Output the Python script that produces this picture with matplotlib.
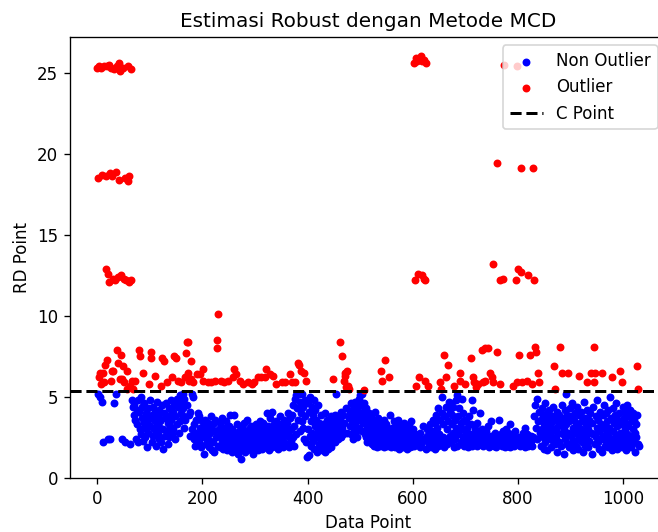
import matplotlib.pyplot as plt
import numpy as np

# Nilai RD (robust distance) per data point, 10 per baris
rd = [
    25.3, 18.5, 5.2, 25.4, 6.2, 5.0, 6.5, 25.3, 5.8, 18.7,
    4.7, 6.5, 2.2, 25.4, 5.9, 7.0, 18.6, 12.9, 25.4, 7.3,
    12.6, 2.4, 12.1, 25.5, 18.8, 2.4, 6.0, 25.3, 6.6, 18.6,
    12.3, 6.6, 25.2, 4.6, 12.2, 18.9, 5.2, 7.9, 25.4, 7.1,
    12.4, 18.4, 25.6, 6.1, 25.1, 7.6, 12.5, 6.1, 2.4, 25.3,
    6.9, 12.3, 5.9, 18.5, 2.2, 12.2, 6.6, 5.5, 18.3, 25.4,
    12.1, 18.6, 2.1, 5.7, 25.2, 12.2, 6.0, 4.8, 5.5, 4.4,
    3.9, 4.5, 3.6, 6.0, 2.4, 4.2, 3.3, 2.2, 4.8, 7.9,
    4.1, 7.5, 3.0, 2.7, 5.0, 3.7, 4.4, 6.5, 2.3, 3.4,
    4.6, 3.1, 2.5, 4.0, 1.9, 3.5, 4.3, 2.8, 5.8, 3.8,
    4.8, 3.2, 7.8, 7.4, 2.2, 3.9, 2.6, 4.4, 3.0, 3.6,
    4.1, 6.3, 2.0, 3.3, 4.7, 2.7, 3.8, 2.4, 4.2, 3.1,
    3.5, 2.2, 5.7, 4.5, 7.4, 1.8, 3.0, 7.2, 4.0, 2.6,
    3.7, 4.6, 2.9, 5.9, 2.1, 3.4, 4.3, 2.5, 3.9, 3.2,
    4.8, 3.6, 2.7, 6.2, 4.1, 3.0, 7.5, 4.5, 2.4, 3.8,
    7.4, 4.9, 3.3, 6.0, 4.4, 2.8, 4.7, 3.5, 5.1, 4.0,
    5.9, 4.6, 3.9, 5.2, 4.3, 3.1, 4.9, 6.2, 3.6, 7.7,
    4.5, 8.4, 6.5, 8.4, 3.9, 6.0, 4.1, 2.6, 7.2, 6.1,
    5.2, 3.0, 5.0, 5.9, 2.4, 3.3, 2.0, 2.8, 3.6, 2.2,
    6.4, 4.0, 2.6, 3.8, 2.2, 3.1, 6.4, 2.9, 1.9, 3.5,
    2.5, 6.7, 6.0, 3.2, 1.5, 2.8, 3.6, 2.1, 3.0, 2.4,
    5.9, 3.4, 1.9, 2.7, 3.1, 2.3, 5.9, 3.8, 1.7, 2.9,
    3.3, 2.2, 1.6, 2.9, 6.0, 3.6, 2.5, 8.0, 8.5, 10.1,
    2.0, 3.0, 2.6, 3.4, 1.9, 2.7, 6.0, 2.3, 3.7, 2.8,
    1.8, 3.1, 5.9, 2.4, 2.0, 3.5, 2.6, 1.7, 6.0, 2.9,
    3.2, 2.2, 2.7, 3.9, 1.9, 2.5, 3.0, 1.6, 6.2, 2.4,
    3.9, 6.7, 2.1, 2.8, 6.4, 1.8, 3.3, 2.5, 1.5, 2.2,
    2.9, 6.0, 1.7, 2.4, 1.2, 3.1, 2.0, 5.8, 2.6, 1.9,
    3.4, 2.3, 1.6, 2.8, 2.1, 3.6, 1.8, 5.9, 2.5, 3.0,
    2.0, 2.7, 1.7, 3.2, 5.8, 2.2, 1.5, 2.9, 2.4, 5.9,
    2.6, 1.9, 3.3, 2.2, 3.0, 1.7, 6.2, 2.8, 2.4, 3.5,
    2.0, 2.7, 6.2, 1.8, 3.1, 2.3, 3.4, 2.6, 1.9, 2.9,
    6.2, 2.5, 6.7, 4.0, 2.1, 3.2, 2.8, 1.7, 6.4, 3.7,
    2.4, 3.0, 1.9, 4.1, 2.6, 6.3, 2.2, 3.3, 2.9, 2.0,
    3.5, 5.8, 2.3, 2.7, 1.8, 3.1, 2.5, 3.8, 2.0, 2.8,
    3.3, 5.9, 2.4, 1.9, 2.9, 3.6, 2.2, 5.9, 2.7, 3.1,
    2.1, 3.4, 2.6, 4.0, 1.9, 2.9, 3.7, 6.4, 2.3, 3.0,
    5.9, 3.9, 2.5, 4.5, 2.0, 3.2, 5.9, 4.9, 2.7, 5.1,
    4.3, 7.1, 3.6, 5.2, 7.0, 4.7, 2.9, 4.0, 6.6, 3.5,
    5.2, 4.4, 3.1, 2.4, 6.5, 4.8, 3.8, 6.0, 2.2, 1.3,
    3.0, 4.6, 1.4, 4.1, 2.6, 5.0, 3.5, 2.0, 4.4, 2.8,
    3.9, 2.3, 4.8, 1.8, 3.2, 4.2, 2.5, 3.6, 1.6, 2.9,
    4.5, 2.1, 3.4, 1.9, 2.7, 3.9, 2.3, 3.1, 1.7, 2.6,
    3.3, 2.0, 2.8, 4.0, 1.6, 2.4, 3.0, 2.2, 3.6, 1.8,
    2.7, 3.4, 2.0, 2.5, 3.8, 1.9, 2.9, 3.2, 6.1, 2.3,
    3.5, 2.6, 3.9, 2.2, 5.2, 3.0, 2.8, 3.7, 2.4, 3.3,
    2.9, 3.6, 8.4, 2.5, 4.1, 3.1, 7.5, 2.7, 3.9, 6.0,
    3.4, 6.3, 6.5, 5.6, 4.3, 6.6, 2.8, 5.7, 3.7, 5.5,
    4.0, 3.2, 4.6, 2.7, 3.5, 4.2, 2.4, 3.8, 3.0, 4.4,
    3.3, 4.7, 2.9, 3.9, 2.5, 4.3, 3.6, 4.9, 3.1, 4.0,
    5.1, 4.5, 3.7, 5.2, 2.9, 4.1, 3.4, 5.4, 4.6, 2.7,
    3.9, 2.5, 4.3, 3.1, 2.2, 3.6, 2.8, 4.0, 2.3, 3.3,
    2.6, 3.8, 2.1, 3.0, 2.4, 3.5, 2.0, 2.8, 4.1, 2.3,
    3.2, 2.5, 1.9, 2.9, 3.7, 2.2, 2.7, 3.4, 2.0, 6.6,
    2.4, 6.0, 3.1, 2.1, 2.6, 3.6, 1.9, 7.3, 2.8, 2.3,
    3.3, 2.0, 2.7, 2.4, 6.2, 3.0, 2.2, 3.9, 1.9, 2.6,
    2.3, 3.1, 2.0, 2.8, 3.5, 2.2, 2.6, 1.9, 3.3, 2.4,
    2.9, 2.1, 3.6, 2.4, 1.8, 2.7, 3.2, 2.0, 2.5, 3.0,
    2.2, 2.8, 1.9, 3.4, 2.3, 2.6, 2.0, 3.0, 2.4, 1.8,
    2.7, 2.1, 3.2, 2.5, 1.9, 2.9, 2.2, 3.5, 2.0, 2.6,
    2.3, 3.0, 2.0, 25.6, 12.2, 2.7, 5.7, 25.9, 2.2, 25.7,
    2.5, 12.6, 6.2, 1.9, 2.8, 26.0, 2.1, 12.5, 25.7, 3.2,
    2.4, 12.3, 25.8, 6.0, 12.2, 25.6, 1.8, 2.6, 3.0, 2.2,
    5.7, 2.0, 2.7, 3.3, 2.3, 1.9, 2.9, 2.5, 3.6, 2.1,
    2.8, 2.2, 3.4, 1.8, 2.6, 3.9, 2.4, 3.1, 2.0, 4.3,
    2.7, 3.6, 5.9, 2.2, 5.5, 4.0, 5.0, 2.5, 3.3, 1.9,
    7.6, 3.8, 2.4, 4.4, 6.2, 3.0, 2.1, 7.0, 3.5, 4.7,
    2.6, 4.1, 4.6, 2.2, 3.3, 3.9, 2.8, 4.4, 1.9, 5.7,
    3.6, 2.4, 4.8, 3.1, 2.0, 5.1, 3.8, 2.7, 4.3, 6.5,
    6.0, 3.4, 2.2, 4.9, 3.0, 2.5, 4.0, 3.6, 2.0, 5.8,
    2.9, 3.5, 2.1, 2.6, 3.1, 1.9, 2.4, 3.8, 2.2, 2.7,
    3.3, 7.4, 4.8, 2.0, 4.2, 6.2, 5.9, 2.5, 3.0, 2.2,
    5.6, 2.8, 3.4, 2.0, 5.8, 2.4, 2.9, 4.0, 2.1, 2.6,
    2.3, 7.9, 3.0, 5.9, 2.0, 2.7, 2.4, 8.0, 6.0, 2.2,
    2.9, 2.1, 2.5, 8.0, 3.2, 1.9, 2.3, 6.5, 3.5, 2.6,
    6.2, 2.2, 13.2, 5.9, 2.4, 2.0, 2.8, 2.3, 1.9, 2.6,
    19.4, 7.8, 2.1, 2.5, 3.6, 12.2, 5.8, 2.2, 2.7, 2.0,
    2.4, 2.9, 12.3, 2.1, 25.5, 2.6, 1.9, 2.3, 3.0, 2.2,
    2.5, 2.0, 2.8, 2.3, 3.3, 1.9, 2.4, 2.1, 2.7, 2.2,
    2.6, 5.7, 2.0, 2.4, 2.9, 2.1, 2.3, 12.2, 5.9, 25.4,
    2.2, 12.9, 7.6, 2.5, 2.0, 19.1, 12.7, 5.9, 2.4, 2.8,
    2.1, 2.6, 2.3, 3.1, 1.9, 2.5, 2.2, 6.0, 2.7, 2.0,
    12.5, 2.4, 2.1, 7.6, 2.6, 2.3, 5.8, 2.0, 19.1, 2.5,
    12.2, 3.8, 4.5, 8.1, 3.1, 7.8, 4.9, 2.4, 3.5, 6.5,
    4.1, 5.9, 2.8, 3.6, 2.0, 4.3, 3.0, 2.5, 3.9, 1.8,
    3.3, 4.6, 2.2, 3.7, 2.7, 4.0, 1.7, 3.1, 2.4, 3.5,
    4.2, 2.6, 3.4, 1.9, 2.9, 3.8, 2.3, 4.4, 6.9, 3.0,
    2.1, 5.5, 3.6, 2.5, 4.1, 1.6, 3.2, 2.8, 3.9, 2.2,
    8.1, 3.4, 2.0, 4.5, 6.5, 2.7, 3.7, 1.5, 3.0, 4.2,
    2.4, 3.3, 5.2, 2.1, 3.9, 2.8, 6.5, 3.5, 1.9, 4.3,
    2.6, 3.8, 2.2, 4.6, 3.1, 1.7, 3.6, 2.9, 4.0, 2.3,
    3.4, 2.0, 4.4, 2.7, 3.2, 1.8, 6.3, 3.9, 2.5, 3.0,
    4.1, 2.2, 3.5, 1.6, 2.9, 4.7, 2.4, 3.7, 2.0, 3.3,
    2.6, 4.2, 5.9, 3.0, 1.9, 3.6, 2.3, 4.0, 2.8, 6.5,
    3.4, 1.5, 2.7, 4.4, 8.1, 5.9, 2.1, 6.5, 3.8, 2.5,
    3.1, 4.8, 2.2, 3.6, 1.8, 2.9, 4.1, 2.4, 3.3, 1.6,
    6.5, 3.9, 2.6, 3.2, 4.5, 2.0, 3.0, 2.3, 4.0, 2.8,
    3.5, 1.9, 4.2, 2.5, 3.1, 5.0, 2.2, 3.7, 1.7, 6.2,
    2.9, 4.3, 2.3, 3.4, 2.0, 3.9, 2.6, 4.6, 1.8, 3.2,
    2.4, 3.6, 2.1, 4.0, 2.8, 6.6, 3.3, 1.9, 5.9, 4.4,
    2.5, 3.7, 2.2, 4.1, 3.0, 1.7, 3.4, 2.7, 4.5, 2.3,
    3.2, 2.0, 3.8, 2.6, 4.2, 1.9, 3.5, 2.4, 3.0, 4.0,
    2.2, 3.6, 2.8, 1.6, 3.3, 2.5, 3.9, 6.9, 2.1, 5.5,
    2.0,
]

# Batas C Point (cut-off)
c_point = 5.37

rd = np.array(rd)
idx = np.arange(len(rd))
outlier = rd > c_point

fig = plt.figure(figsize=(658 / 120, 532 / 120), dpi=120)
# sumbu sengaja sedikit melewati tepi kanan gambar, seperti pada referensi
ax = fig.add_axes([70 / 658, 54 / 532, 596 / 658, 441 / 532])

ax.scatter(idx[~outlier], rd[~outlier], color='blue', s=14, label='Non Outlier')
ax.scatter(idx[outlier], rd[outlier], color='red', s=14, label='Outlier')
ax.axhline(c_point, color='black', linestyle='--', linewidth=1.8, label='C Point')

ax.set_xlim(-51.5, 1081.5)
ax.set_ylim(0, 27.2)
ax.set_title('Estimasi Robust dengan Metode MCD')
ax.set_xlabel('Data Point')
ax.set_ylabel('RD Point')
ax.legend(loc='upper right')

plt.savefig('out.png', dpi=120)
